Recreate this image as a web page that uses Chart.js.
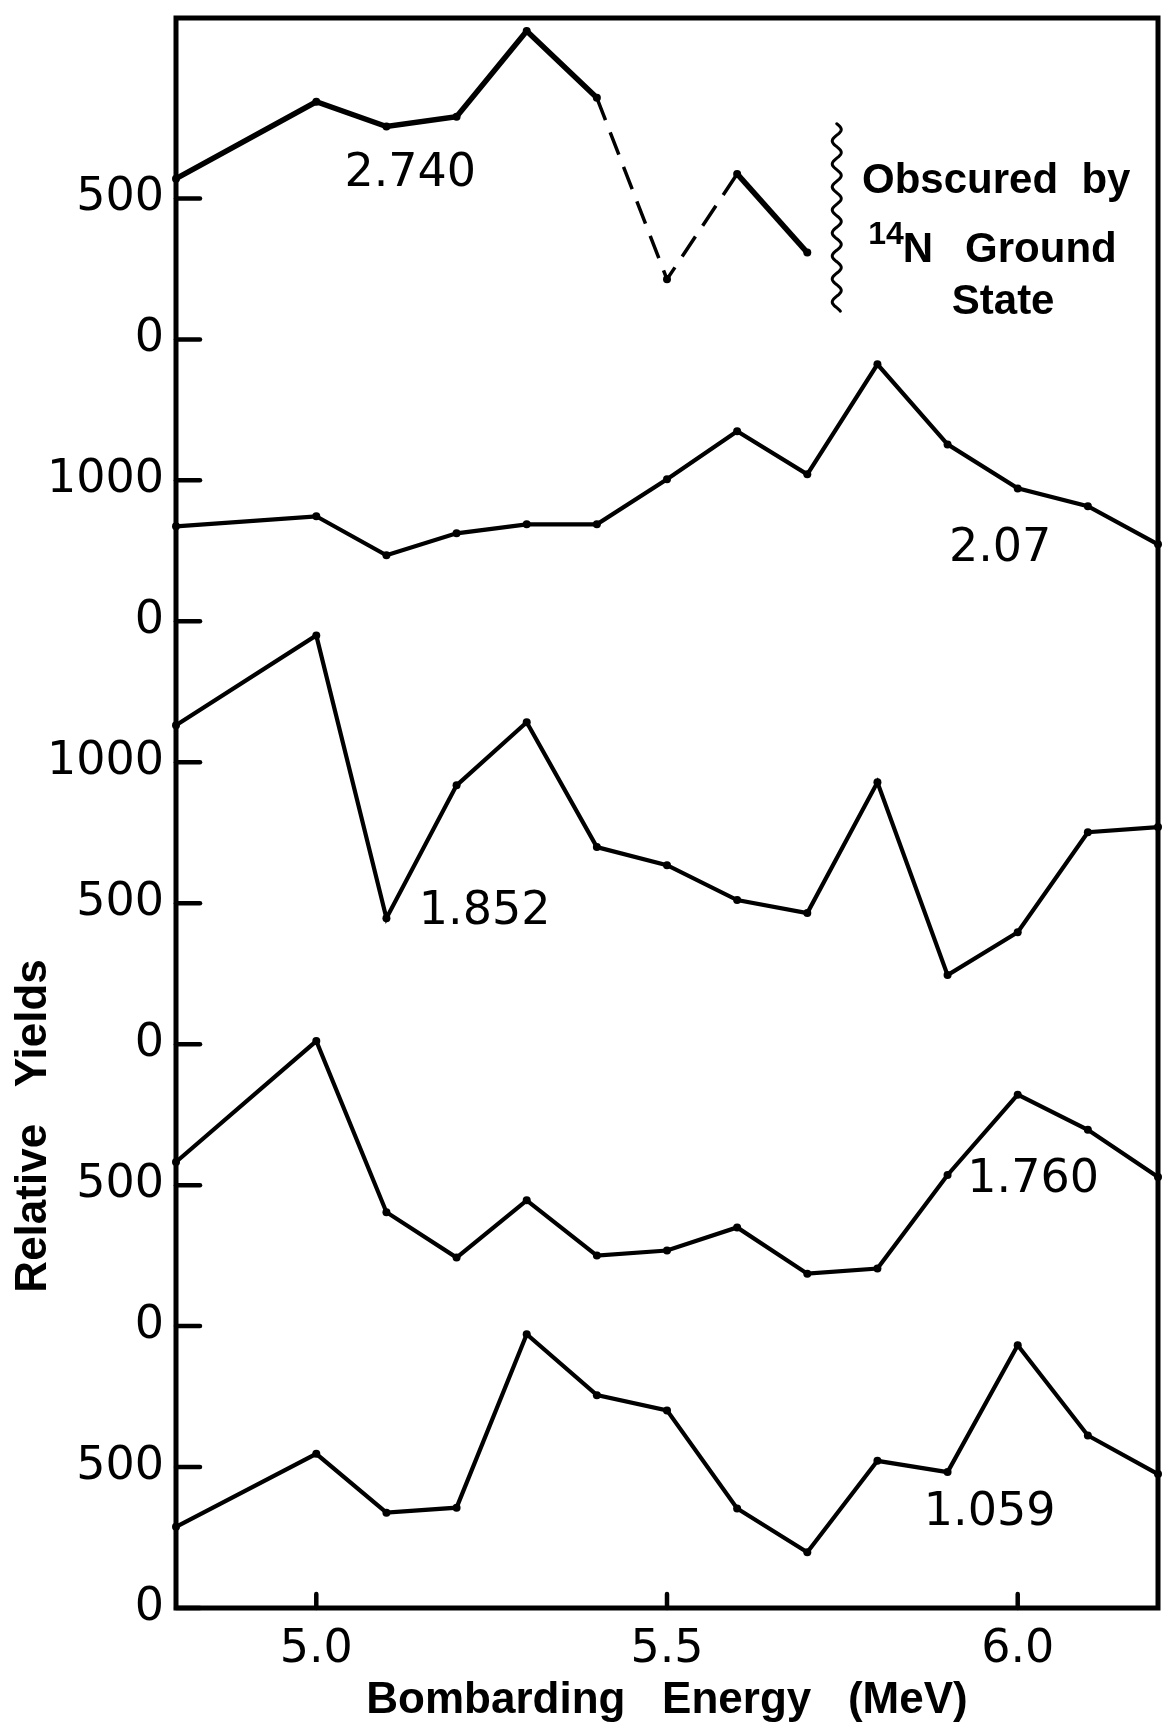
<!DOCTYPE html>
<html>
<head>
<meta charset="utf-8">
<script src="https://cdn.jsdelivr.net/npm/chart.js@4.4.0/dist/chart.umd.min.js"></script>
<style>
html,body{margin:0;padding:0;background:#fff;}
canvas{display:block;}
</style>
</head>
<body>
<canvas id="c" width="1167" height="1733"></canvas>
<script>
// ---- data ----
const energies   = [4.8, 5.0, 5.1, 5.2, 5.3, 5.4, 5.5, 5.6, 5.7, 5.8, 5.9, 6.0, 6.1, 6.2];
const yields1059 = [288, 547, 338, 356, 971, 755, 701, 353, 198, 522, 482, 932, 612, 475];
const yields1760 = [582, 1011, 404, 243, 446, 250, 268, 350, 186, 204, 536, 821, 696, 529];
const yields1852 = [1131, 1450, 447, 918, 1142, 699, 635, 511, 465, 929, 245, 397, 752, 770];
const yields207  = [674, 745, 468, 624, 688, 688, 1007, 1348, 1043, 1823, 1255, 943, 816, 546];
const yields2740 = [570, 843, 755, 790, 1094, 857, 213, 587, 308];
const dashedFrom2740 = [5.4, 5.5];           // segments starting here are dashed
const seriesNames    = ['1.059', '1.760', '1.852', '2.07', '2.740'];
const seriesZeroTick = [0, 2, 4, 7, 9];      // tick index of each panel's zero line
const seriesPerTick  = [500, 500, 500, 1000, 500];
const yTickLabels = ['0', '500', '0', '500', '0', '500', '1000', '0', '1000', '0', '500'];
const xTickValues = [5.0, 5.5, 6.0];

// ---- annotation placement (data coordinates: energy, tick units) ----
const seriesLabelPos = [[5.96, 0.674], [6.022, 3.035], [5.24, 4.94], [5.975, 7.51], [5.134, 10.17]];

const seriesValues = [yields1059, yields1760, yields1852, yields207, yields2740];
const datasets = seriesValues.map((vals, i) => ({
  label: seriesNames[i],
  data: vals.map((v, j) => ({x: energies[j], y: seriesZeroTick[i] + v / seriesPerTick[i]})),
  borderColor: '#000',
  backgroundColor: '#000',
  borderWidth: i === 4 ? 5.5 : 4.2,
  pointRadius: 4,
  pointBorderWidth: 0,
  pointBackgroundColor: '#000',
  tension: 0,
  fill: false,
  clip: 5,
  segment: i === 4 ? {
    borderDash: c => dashedFrom2740.includes(energies[c.p0DataIndex]) ? [24, 13] : undefined,
    borderWidth: c => dashedFrom2740.includes(energies[c.p0DataIndex]) ? 3.5 : undefined
  } : {}
}));

const overlay = {
  id: 'overlay',
  afterDraw(chart) {
    const {ctx, chartArea: a, scales: {x, y}} = chart;
    ctx.save();
    ctx.strokeStyle = '#000';
    ctx.fillStyle = '#000';
    ctx.lineWidth = 5;
    ctx.strokeRect(a.left, a.top, a.right - a.left, a.bottom - a.top);
    // inside tick marks
    ctx.lineWidth = 4.5;
    ctx.lineCap = 'round';
    yTickLabels.forEach((_, k) => {
      const py = y.getPixelForValue(k);
      ctx.beginPath(); ctx.moveTo(a.left, py); ctx.lineTo(a.left + 24, py); ctx.stroke();
    });
    xTickValues.forEach(v => {
      const px = x.getPixelForValue(v);
      ctx.beginPath(); ctx.moveTo(px, a.bottom); ctx.lineTo(px, a.bottom - 14); ctx.stroke();
    });
    // series labels
    ctx.font = '46px "DejaVu Sans"';
    ctx.textAlign = 'center';
    ctx.textBaseline = 'middle';
    seriesNames.forEach((n, i) => {
      ctx.fillText(n, x.getPixelForValue(seriesLabelPos[i][0]), y.getPixelForValue(seriesLabelPos[i][1]));
    });
    // "Obscured by 14N Ground State" note
    ctx.textAlign = 'left';
    ctx.textBaseline = 'alphabetic';
    ctx.font = 'bold 42px "Liberation Sans"';
    ctx.fillText('Obscured  by', x.getPixelForValue(5.778), y.getPixelForValue(10.04));
    ctx.fillText('N', x.getPixelForValue(5.836), y.getPixelForValue(9.546));
    ctx.fillText('Ground', x.getPixelForValue(5.925), y.getPixelForValue(9.546));
    ctx.fillText('State', x.getPixelForValue(5.906), y.getPixelForValue(9.18));
    ctx.font = 'bold 32px "Liberation Sans"';
    ctx.fillText('14', x.getPixelForValue(5.787), y.getPixelForValue(9.68));
    // wavy bracket
    const wx = x.getPixelForValue(5.742);
    const wy0 = y.getPixelForValue(10.53), wy1 = y.getPixelForValue(9.2);
    ctx.lineWidth = 3;
    ctx.beginPath();
    for (let t = 0; t <= 1.0001; t += 0.005) {
      const py = wy0 + (wy1 - wy0) * t;
      const px = wx + 4.5 * Math.sin((py - wy0) / 23 * 2 * Math.PI);
      if (t === 0) ctx.moveTo(px, py); else ctx.lineTo(px, py);
    }
    ctx.stroke();
    // y axis title
    ctx.save();
    ctx.translate(34, y.getPixelForValue(3.42));
    ctx.rotate(-Math.PI / 2);
    ctx.font = 'bold 44px "Liberation Sans"';
    ctx.textAlign = 'center';
    ctx.textBaseline = 'middle';
    ctx.fillText('Relative   Yields', 0, 0);
    ctx.restore();
    ctx.restore();
  }
};

new Chart(document.getElementById('c'), {
  type: 'line',
  data: {datasets},
  options: {
    responsive: false,
    animation: false,
    devicePixelRatio: 1,
    layout: {padding: {left: 0, right: 9, top: 18, bottom: 0}},
    plugins: {legend: {display: false}, tooltip: {enabled: false}},
    scales: {
      x: {
        type: 'linear',
        min: 4.8,
        max: 6.2,
        grid: {display: false, drawTicks: false},
        border: {display: false},
        afterBuildTicks: s => { s.ticks = xTickValues.map(v => ({value: v})); },
        afterFit: s => { s.height = 125; s.paddingLeft = 0; s.paddingRight = 0; },
        ticks: {
          color: '#000',
          padding: 14,
          maxRotation: 0,
          font: {family: 'DejaVu Sans', size: 46},
          callback: v => Number(v).toFixed(1)
        },
        title: {
          display: true,
          text: 'Bombarding   Energy   (MeV)',
          color: '#000',
          font: {family: 'Liberation Sans', size: 44, weight: 'bold'},
          padding: {top: 0, bottom: 6}
        }
      },
      y: {
        type: 'linear',
        min: 0,
        max: 11.28,
        grid: {display: false, drawTicks: false},
        border: {display: false},
        afterBuildTicks: s => { s.ticks = yTickLabels.map((_, k) => ({value: k})); },
        afterFit: s => { s.width = 176; s.paddingTop = 0; s.paddingBottom = 0; },
        ticks: {
          color: '#000',
          padding: 12,
          font: {family: 'DejaVu Sans', size: 46},
          callback: v => yTickLabels[v] ?? ''
        }
      }
    }
  },
  plugins: [overlay]
});
</script>
</body>
</html>
